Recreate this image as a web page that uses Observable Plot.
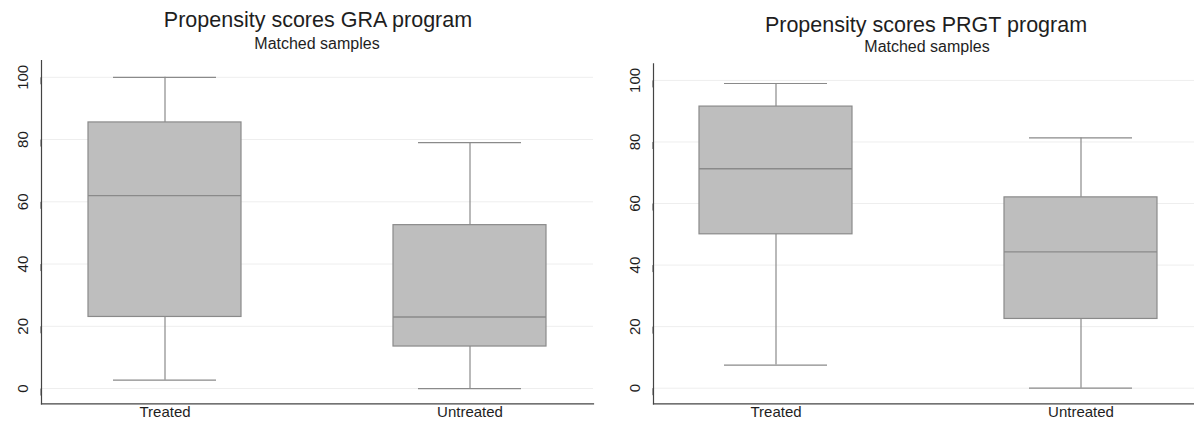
<!DOCTYPE html>
<html>
<head>
<meta charset="utf-8">
<script src="https://cdn.jsdelivr.net/npm/d3@7"></script>
<script src="https://cdn.jsdelivr.net/npm/@observablehq/plot@0.6"></script>
<style>
  html, body { margin: 0; padding: 0; background: #fff; }
  body { width: 1194px; height: 423px; position: relative; overflow: hidden; font-family: "Liberation Sans", Arial, sans-serif; color: #1e1e1e; }
  .title { position: absolute; width: 600px; text-align: center; font-size: 21.5px; line-height: 1; white-space: nowrap; }
  .sub { position: absolute; width: 600px; text-align: center; font-size: 16px; line-height: 1; white-space: nowrap; }
  .panel { position: absolute; top: 55px; }
  .panel svg { max-width: none !important; }
</style>
</head>
<body>
<div class="title" style="left:18px; top:10px;">Propensity scores GRA program</div>
<div class="sub" style="left:17px; top:35.5px;">Matched samples</div>
<div class="title" style="left:626px; top:15px;">Propensity scores PRGT program</div>
<div class="sub" style="left:627px; top:38.5px;">Matched samples</div>
<div class="panel" id="left" style="left:0px; width:597px;"></div>
<div class="panel" id="right" style="left:597px; width:620px;"></div>
<script>
const groups = ["Treated", "Untreated"];
const yTicks = [0, 20, 40, 60, 80, 100];

// GRA program (matched samples)
const graMin    = [2.7, 0];
const graQ1     = [23, 13.5];
const graMedian = [62, 23];
const graQ3     = [85.5, 52.5];
const graMax    = [100, 79];

// PRGT program (matched samples)
const prgtMin    = [7.5, 0];
const prgtQ1     = [50, 22.5];
const prgtMedian = [71.3, 44.3];
const prgtQ3     = [91.5, 62];
const prgtMax    = [99, 81.3];

function rows(mn, q1, md, q3, mx) {
  return groups.map((g, i) => ({group: g, min: mn[i], q1: q1[i], median: md[i], q3: q3[i], max: mx[i]}));
}

const boxFill = "#bebebe";
const boxStroke = "#8a8a8a";
const axisColor = "#444";

function boxPlot(data, opts) {
  return Plot.plot({
    width: opts.width, height: 368,
    marginLeft: opts.marginLeft, marginRight: opts.marginRight,
    marginTop: opts.marginTop, marginBottom: 19.7,
    style: {fontFamily: "'Liberation Sans', Arial, sans-serif", fontSize: "15px", color: "#1e1e1e", background: "transparent", overflow: "visible", maxWidth: "none"},
    x: {type: "band", domain: groups, paddingInner: 0.5, paddingOuter: opts.paddingOuter, label: null},
    y: {domain: opts.yDomain, label: null},
    marks: [
      Plot.gridY(yTicks, {stroke: "#eeeeee", strokeOpacity: 1}),
      Plot.ruleX(data, {x: "group", y1: "min", y2: "q1", stroke: boxStroke, strokeWidth: 1.2}),
      Plot.ruleX(data, {x: "group", y1: "q3", y2: "max", stroke: boxStroke, strokeWidth: 1.2}),
      Plot.tickY(data, {x: "group", y: "min", stroke: boxStroke, strokeWidth: 1.2, insetLeft: 25, insetRight: 25}),
      Plot.tickY(data, {x: "group", y: "max", stroke: boxStroke, strokeWidth: 1.2, insetLeft: 25, insetRight: 25}),
      Plot.barY(data, {x: "group", y1: "q1", y2: "q3", fill: boxFill, stroke: boxStroke, strokeWidth: 1.2}),
      Plot.tickY(data, {x: "group", y: "median", stroke: boxStroke, strokeWidth: 1.4}),
      Plot.axisY(yTicks, {tickSize: 7, tickPadding: 11, rotate: -90, textAnchor: "middle", stroke: axisColor, fill: "#1e1e1e", fontSize: 15}),
      Plot.axisX({tickSize: 0, tickPadding: 3, fill: "#1e1e1e", fontSize: 15}),
      Plot.frame({anchor: "left", stroke: axisColor, strokeWidth: 1.2}),
      Plot.frame({anchor: "bottom", stroke: axisColor, strokeWidth: 1.2})
    ]
  });
}

document.getElementById("left").append(boxPlot(rows(graMin, graQ1, graMedian, graQ3, graMax),
  {width: 597, marginLeft: 41, marginRight: 4, marginTop: 5, paddingOuter: 0.153, yDomain: [-4.9, 105.4]}));
document.getElementById("right").append(boxPlot(rows(prgtMin, prgtQ1, prgtMedian, prgtQ3, prgtMax),
  {width: 620, marginLeft: 56, marginRight: 14, marginTop: 8.3, paddingOuter: 0.149, yDomain: [-5.07, 105.4]}));
</script>
</body>
</html>
